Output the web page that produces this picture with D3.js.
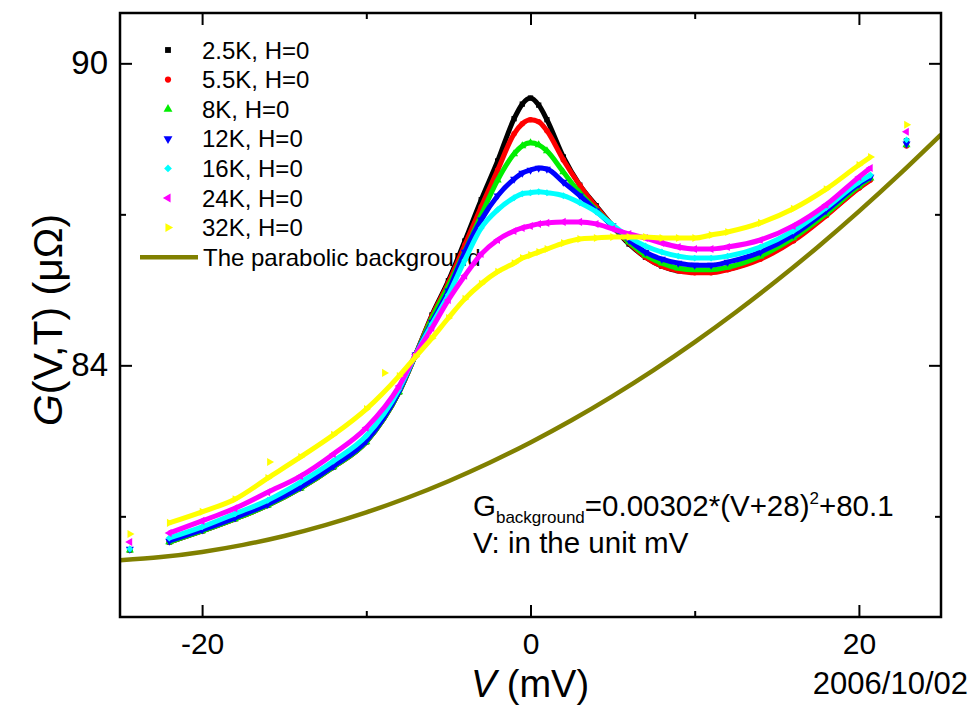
<!DOCTYPE html>
<html>
<head>
<meta charset="utf-8">
<script src="https://cdn.jsdelivr.net/npm/d3@7"></script>
<style>
  body { margin: 0; background: #fff; }
  svg text { font-family: "Liberation Sans", Arial, sans-serif; fill: #000; }
</style>
</head>
<body>
<svg id="chart" width="975" height="713"></svg>
<script>
// Bias voltage grid (mV) shared by the temperature sweeps
const biasV = [-22, -20, -18, -16, -14, -12, -10, -8, -7, -6, -5, -4, -3, -2, -1, -0.5, 0, 0.5, 1,
               2, 3, 4, 5, 6, 7, 8, 9, 10, 11, 12, 14, 16, 18, 20, 20.7];

// Conductance G(V,T) in micro-ohm units, one array per temperature
const g2p5K = [80.49, 80.71, 80.95, 81.22, 81.56, 81.98, 82.48, 83.47, 84.21, 85.00, 85.68, 86.47, 87.29, 88.06, 88.90, 89.19, 89.31, 89.17, 88.88,
               88.14, 87.58, 87.17, 86.77, 86.41, 86.15, 85.97, 85.88, 85.86, 85.86, 85.91, 86.13, 86.49, 86.99, 87.54, 87.74];
const g5p5K = [80.49, 80.71, 80.95, 81.22, 81.56, 81.98, 82.48, 83.47, 84.21, 84.98, 85.64, 86.39, 87.15, 87.88, 88.60, 88.80, 88.88, 88.84, 88.66,
               88.08, 87.58, 87.15, 86.77, 86.43, 86.15, 85.97, 85.88, 85.84, 85.84, 85.90, 86.11, 86.47, 86.97, 87.52, 87.68];
const g8K   = [80.49, 80.71, 80.95, 81.22, 81.56, 81.98, 82.48, 83.47, 84.21, 84.94, 85.58, 86.27, 86.99, 87.68, 88.20, 88.36, 88.42, 88.38, 88.26,
               87.84, 87.43, 87.09, 86.77, 86.45, 86.19, 86.03, 85.93, 85.90, 85.90, 85.95, 86.17, 86.53, 87.01, 87.56, 87.72];
const g12K  = [80.51, 80.73, 80.97, 81.24, 81.58, 82.00, 82.50, 83.49, 84.21, 84.86, 85.48, 86.25, 86.89, 87.37, 87.70, 87.82, 87.88, 87.92, 87.90,
               87.64, 87.37, 87.07, 86.77, 86.49, 86.25, 86.11, 86.03, 85.99, 85.99, 86.05, 86.25, 86.59, 87.07, 87.60, 87.74];
const g16K  = [80.57, 80.79, 81.05, 81.32, 81.68, 82.10, 82.60, 83.53, 84.21, 84.82, 85.40, 86.09, 86.73, 87.09, 87.33, 87.41, 87.43, 87.45, 87.43,
               87.37, 87.23, 87.05, 86.79, 86.55, 86.37, 86.25, 86.17, 86.13, 86.13, 86.17, 86.35, 86.67, 87.13, 87.64, 87.78];
const g24K  = [80.67, 80.91, 81.16, 81.48, 81.80, 82.24, 82.76, 83.59, 84.21, 84.74, 85.30, 85.78, 86.21, 86.49, 86.67, 86.73, 86.77, 86.81, 86.83,
               86.85, 86.85, 86.81, 86.71, 86.61, 86.53, 86.43, 86.35, 86.31, 86.31, 86.35, 86.49, 86.77, 87.19, 87.74, 87.92];
const g32K  = [80.87, 81.09, 81.34, 81.76, 82.18, 82.62, 83.13, 83.79, 84.17, 84.54, 84.94, 85.32, 85.62, 85.86, 86.03, 86.13, 86.19, 86.25, 86.31,
               86.43, 86.51, 86.53, 86.55, 86.55, 86.55, 86.53, 86.53, 86.53, 86.59, 86.65, 86.83, 87.11, 87.50, 87.98, 88.14];

// Isolated readings recorded at the ends of each sweep
const edgeV      = [-24.4, 22.9];
const edge2p5K   = [80.33, 88.46];
const edge5p5K   = [80.33, 88.36];
const edge8K     = [80.33, 88.38];
const edge12K    = [80.35, 88.40];
const edge16K    = [80.35, 88.48];
const edge24K    = [80.49, 88.64];
const edge32K    = [80.65, 88.78];
// Stray 32K readings
const strayV32K  = [-15.9, -8.9];
const strayG32K  = [82.08, 83.85];

const seriesNames = ["2.5K, H=0", "5.5K, H=0", "8K, H=0", "12K, H=0", "16K, H=0", "24K, H=0", "32K, H=0"];

// Parabolic background tabulated every 2.5 mV
const bgV = [-25, -22.5, -20, -17.5, -15, -12.5, -10, -7.5, -5, -2.5, 0, 2.5, 5, 7.5, 10, 12.5, 15, 17.5, 20, 22.5, 25];
const bgG = [80.127, 80.191, 80.293, 80.433, 80.610, 80.826, 81.079, 81.369, 81.698, 82.064, 82.468,
             82.909, 83.389, 83.906, 84.461, 85.054, 85.684, 86.352, 87.058, 87.802, 88.583];
const bgName = "The parabolic background";

// Axis ticks
const xMajor = [-20, 0, 20];
const xMinor = [-10, 10];
const yMajor = [84, 90];
const yMinor = [81, 87];

const plot = { left: 120, right: 941, top: 13, bottom: 617 };

const x = d3.scaleLinear().domain([-25, 25]).range([plot.left, plot.right]);
const y = d3.scaleLinear().domain([79, 91]).range([plot.bottom, plot.top]);

const svg = d3.select("#chart");

svg.append("defs").append("clipPath").attr("id", "plotClip")
  .append("rect")
  .attr("x", plot.left).attr("y", plot.top)
  .attr("width", plot.right - plot.left).attr("height", plot.bottom - plot.top);

// Marker shapes per sweep
const styles = [
  { color: "#000000", shape: d3.symbolSquare,   rot: 0,   size: 28 },
  { color: "#ff0000", shape: d3.symbolCircle,   rot: 0,   size: 24 },
  { color: "#00ee00", shape: d3.symbolTriangle, rot: 0,   size: 28 },
  { color: "#0000ff", shape: d3.symbolTriangle, rot: 180, size: 28 },
  { color: "#00ffff", shape: d3.symbolSquare,   rot: 45,  size: 24 },
  { color: "#ff00ff", shape: d3.symbolTriangle, rot: -90, size: 28 },
  { color: "#ffff00", shape: d3.symbolTriangle, rot: 90,  size: 28 }
];

const sweeps = [g2p5K, g5p5K, g8K, g12K, g16K, g24K, g32K];
const edges  = [edge2p5K, edge5p5K, edge8K, edge12K, edge16K, edge24K, edge32K];

const series = seriesNames.map((name, i) => {
  const pts = biasV.map((v, j) => ({ v, g: sweeps[i][j] }));
  const extra = edgeV.map((v, j) => ({ v, g: edges[i][j] }));
  if (i === 6) strayV32K.forEach((v, j) => extra.push({ v, g: strayG32K[j] }));
  return { name, pts, extra, ...styles[i] };
});

// ---- Legend (drawn under the data) ----
const legend = svg.append("g").attr("class", "legend");
const legendTop = 50, legendStep = 29.6;
series.forEach((s, i) => {
  const cy = legendTop + i * legendStep;
  legend.append("path")
    .attr("d", d3.symbol().type(s.shape).size(s.size + 6)())
    .attr("transform", `translate(168,${cy}) rotate(${s.rot})`)
    .attr("fill", s.color);
  legend.append("text")
    .attr("x", 202).attr("y", cy).attr("dy", "0.36em")
    .attr("font-size", 24)
    .text(s.name);
});
{
  const cy = legendTop + 7 * legendStep;
  legend.append("line")
    .attr("x1", 140).attr("x2", 198).attr("y1", cy).attr("y2", cy)
    .attr("stroke", "#808000").attr("stroke-width", 4.5);
  legend.append("text")
    .attr("x", 203).attr("y", cy).attr("dy", "0.36em")
    .attr("font-size", 24)
    .text(bgName);
}

// ---- Data ----
const dataG = svg.append("g").attr("clip-path", "url(#plotClip)");

const bgLine = d3.line()
  .x((d, i) => x(bgV[i]))
  .y(d => y(d))
  .curve(d3.curveNatural);
dataG.append("path")
  .attr("d", bgLine(bgG))
  .attr("fill", "none")
  .attr("stroke", "#808000")
  .attr("stroke-width", 4.5);

const sweepLine = d3.line()
  .x(d => x(d.v))
  .y(d => y(d.g))
  .curve(d3.curveMonotoneX);

series.forEach(s => {
  const g = dataG.append("g");
  g.append("path")
    .attr("d", sweepLine(s.pts))
    .attr("fill", "none")
    .attr("stroke", s.color)
    .attr("stroke-width", 5)
    .attr("stroke-linejoin", "round");
  const sym = d3.symbol().type(s.shape).size(s.size);
  g.selectAll("path.pt")
    .data(s.pts.concat(s.extra))
    .join("path")
    .attr("class", "pt")
    .attr("d", sym())
    .attr("transform", d => `translate(${x(d.v)},${y(d.g)}) rotate(${s.rot})`)
    .attr("fill", s.color);
});

// ---- Axes ----
function styleAxis(g) {
  g.select(".domain").remove();
  g.selectAll(".tick line").attr("stroke", "#000").attr("stroke-width", 2);
}
function styleLabels(size) {
  return g => g.selectAll("text")
    .attr("font-size", size).attr("fill", "#000")
    .style("font-family", '"Liberation Sans", Arial, sans-serif');
}
const plain = d => String(d);

svg.append("g").attr("transform", `translate(0,${plot.bottom})`)
  .call(d3.axisBottom(x).tickValues(xMajor).tickSize(-12).tickSizeOuter(0).tickPadding(16).tickFormat(plain))
  .call(styleAxis)
  .call(styleLabels(30));
svg.append("g").attr("transform", `translate(0,${plot.bottom})`)
  .call(d3.axisBottom(x).tickValues(xMinor).tickSize(-6).tickSizeOuter(0).tickFormat(""))
  .call(styleAxis);
svg.append("g").attr("transform", `translate(0,${plot.top})`)
  .call(d3.axisTop(x).tickValues(xMajor).tickSize(-12).tickSizeOuter(0).tickFormat(""))
  .call(styleAxis);
svg.append("g").attr("transform", `translate(0,${plot.top})`)
  .call(d3.axisTop(x).tickValues(xMinor).tickSize(-6).tickSizeOuter(0).tickFormat(""))
  .call(styleAxis);

svg.append("g").attr("transform", `translate(${plot.left},0)`)
  .call(d3.axisLeft(y).tickValues(yMajor).tickSize(-12).tickSizeOuter(0).tickPadding(12).tickFormat(plain))
  .call(styleAxis)
  .call(styleLabels(33));
svg.append("g").attr("transform", `translate(${plot.left},0)`)
  .call(d3.axisLeft(y).tickValues(yMinor).tickSize(-6).tickSizeOuter(0).tickFormat(""))
  .call(styleAxis);
svg.append("g").attr("transform", `translate(${plot.right},0)`)
  .call(d3.axisRight(y).tickValues(yMajor).tickSize(-12).tickSizeOuter(0).tickFormat(""))
  .call(styleAxis);
svg.append("g").attr("transform", `translate(${plot.right},0)`)
  .call(d3.axisRight(y).tickValues(yMinor).tickSize(-6).tickSizeOuter(0).tickFormat(""))
  .call(styleAxis);

// Frame
svg.append("rect")
  .attr("x", plot.left).attr("y", plot.top)
  .attr("width", plot.right - plot.left).attr("height", plot.bottom - plot.top)
  .attr("fill", "none").attr("stroke", "#000").attr("stroke-width", 2.5);

// Axis titles
const xTitle = svg.append("text")
  .attr("x", 530).attr("y", 697)
  .attr("text-anchor", "middle")
  .attr("font-size", 38);
xTitle.append("tspan").attr("font-style", "italic").text("V");
xTitle.append("tspan").text(" (mV)");

const yTitle = svg.append("text")
  .attr("transform", "translate(62,320) rotate(-90)")
  .attr("text-anchor", "middle")
  .attr("font-size", 41);
yTitle.append("tspan").attr("font-style", "italic").text("G");
yTitle.append("tspan").text("(V,T) (\u03bc\u03a9)");

// Date stamp
svg.append("text")
  .attr("x", 968).attr("y", 694)
  .attr("text-anchor", "end")
  .attr("font-size", 31)
  .text("2006/10/02");

// Background formula annotation
const bgCoef = ["0.00302", "28", "80.1"];
const ann = svg.append("text").attr("x", 473).attr("y", 516).attr("font-size", 29.5);
ann.append("tspan").text("G");
ann.append("tspan").attr("font-size", 17).attr("dy", 7).text("background");
ann.append("tspan").attr("dy", -7).text(`=${bgCoef[0]}*(V+${bgCoef[1]})`);
ann.append("tspan").attr("font-size", 17).attr("dy", -12).text("2");
ann.append("tspan").attr("dy", 12).text(`+${bgCoef[2]}`);
svg.append("text").attr("x", 473).attr("y", 553).attr("font-size", 29.5)
  .text("V: in the unit mV");
</script>
</body>
</html>
